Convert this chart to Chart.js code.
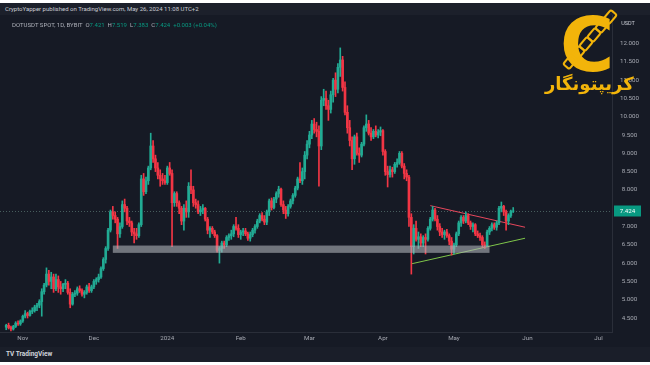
<!DOCTYPE html>
<html>
<head>
<meta charset="utf-8">
<script src="https://cdn.jsdelivr.net/npm/chart.js@4.4.1/dist/chart.umd.min.js"></script>
<style>
  html, body { margin: 0; padding: 0; background: #ffffff; width: 650px; height: 365px; overflow: hidden; }
  #frame { position: absolute; left: 0; top: 3px; width: 650px; height: 359px; background: #161a25; }
  #hdr { position: absolute; left: 0; top: 3px; width: 645px; height: 12px; background: #1c202b; color: #c9ccd4;
         font: 6px Roboto, "Liberation Sans", sans-serif; line-height: 12px; padding-left: 5px; }
  #legend { position: absolute; left: 12px; top: 21px; color: #aeb1ba; font: 6px Roboto, "Liberation Sans", sans-serif; white-space: pre; }
  #legend b { font-weight: normal; color: #089981; }
  #unit { position: absolute; left: 619px; top: 20px; width: 18px; text-align: center; color: #c9ccd4;
          font: 5.5px Roboto, "Liberation Sans", sans-serif; }
  #wrap { position: absolute; left: 0; top: 15px; width: 650px; height: 332px; }
  #foot { position: absolute; left: 0; top: 347px; width: 650px; height: 15px; background: #1a1e29; }
  #foot span { position: absolute; left: 6px; top: 3px; color: #d1d4dc; font: bold 6.5px Roboto, "Liberation Sans", sans-serif; }
  #logo { position: absolute; left: 540px; top: 4px; width: 95px; height: 95px; }
  #logo .c { position: absolute; left: 20px; top: 4px; font: bold 74px/1 "DejaVu Sans", sans-serif; color: #f2b40a; }
  #logo .lnk { position: absolute; width: 10px; height: 6px; border: 2.5px solid #f2b40a; border-radius: 3px; transform: rotate(-50deg); }
  #logo .fa { position: absolute; left: 5px; top: 69px; font: bold 18px/1.2 "DejaVu Sans", sans-serif; color: #f2b40a; direction: rtl; }
</style>
</head>
<body>
<div id="frame"></div>
<div id="hdr">CryptoYapper published on TradingView.com, May 26, 2024 11:08 UTC+2</div>
<div id="wrap"><canvas id="chart" width="650" height="332"></canvas></div>
<div id="legend">DOTUSDT SPOT, 1D, BYBIT  O<b>7.421</b>  H<b>7.519</b>  L<b>7.383</b>  C<b>7.424</b>  <b>+0.003 (+0.04%)</b></div>
<div id="unit">USDT</div>
<div id="foot"><span>TV TradingView</span></div>
<div id="logo">
  <div class="c">C</div>
  <div class="lnk" style="left:63px;top:8px"></div>
  <div class="lnk" style="left:55px;top:17px"></div>
  <div class="lnk" style="left:47px;top:26px"></div>
  <div class="lnk" style="left:39px;top:35px"></div>
  <div class="lnk" style="left:31px;top:44px"></div>
  <div class="lnk" style="left:23px;top:53px"></div>
  <div class="fa">کریپتونگار</div>
</div>
<script>
// daily candles, index 0 = 25 Oct 2023 ... index 214 = 26 May 2024
var opens = [4.25,4.30,4.24,4.20,4.27,4.36,4.34,4.42,4.55,4.62,4.57,4.68,4.70,4.80,4.85,4.95,5.22,5.40,5.70,5.50,5.62,5.30,5.55,5.35,5.30,5.42,5.45,5.20,4.88,5.15,5.18,5.30,5.25,5.15,5.20,5.35,5.25,
  5.35,5.50,5.55,5.62,5.85,6.10,6.40,6.90,7.40,7.30,7.20,6.80,7.00,7.60,7.50,7.15,7.10,6.85,6.80,6.75,7.05,8.30,7.95,8.25,8.60,9.20,8.85,8.60,8.40,8.30,8.25,
  8.20,8.60,8.45,7.65,7.90,7.65,7.50,7.15,7.50,7.40,8.10,8.00,7.65,7.60,7.40,7.45,7.50,7.20,6.90,6.95,6.85,6.75,6.35,6.40,6.55,6.50,6.70,6.75,6.80,7.00,6.95,
  6.78,6.85,6.88,6.80,6.68,6.78,6.90,7.00,7.15,7.30,7.20,7.12,7.40,7.70,7.52,7.75,7.90,8.02,7.60,7.45,7.35,7.55,7.70,7.85,8.05,8.30,8.25,8.50,8.95,
  9.25,9.50,9.80,9.65,9.60,9.20,10.45,10.50,10.30,10.20,10.60,11.00,10.75,11.35,11.55,10.80,10.12,9.70,9.35,8.85,9.45,9.00,8.95,9.25,9.70,9.80,9.55,9.45,9.60,9.50,9.58,
  9.62,9.05,8.50,8.42,8.55,8.50,8.70,8.75,9.00,8.65,8.45,8.35,7.25,6.45,6.95,6.65,6.72,6.55,6.70,6.65,6.95,7.20,7.45,7.20,7.00,6.85,6.78,6.85,6.75,6.60,
  6.38,6.50,6.80,7.10,7.25,7.15,7.30,7.10,7.00,7.05,6.80,6.75,6.70,6.50,6.48,6.85,6.95,7.05,6.98,7.10,7.50,7.55,7.40,7.15,7.30,7.421];
var highs = [4.33,4.36,4.28,4.30,4.40,4.42,4.45,4.58,4.70,4.66,4.72,4.78,4.85,4.90,5.00,5.30,5.45,5.87,5.80,5.75,5.70,5.70,5.65,5.50,5.45,5.55,5.50,5.30,5.20,5.25,5.35,5.38,5.30,5.25,5.40,5.45,5.40,
  5.55,5.60,5.70,5.90,6.15,6.45,6.95,7.45,7.55,7.40,7.25,7.10,7.70,7.75,7.55,7.25,7.15,6.95,6.95,7.10,8.40,8.45,8.35,8.65,9.55,9.35,8.95,8.75,8.55,8.45,8.40,
  8.65,8.75,8.55,7.95,7.95,7.70,7.55,7.60,7.70,8.20,8.55,8.10,7.75,7.70,7.55,7.60,7.52,7.25,7.00,7.00,6.90,6.78,6.45,6.60,6.60,6.75,6.80,6.90,7.05,7.25,7.05,
  6.90,6.95,6.95,6.85,6.85,6.95,7.05,7.20,7.35,7.38,7.30,7.45,7.75,7.78,7.80,7.95,8.10,8.05,7.70,7.55,7.60,7.75,7.90,8.10,8.35,8.75,8.60,9.05,9.35,
  9.60,9.90,9.95,9.85,9.75,10.55,10.75,10.70,10.45,10.70,11.05,11.20,11.45,11.88,11.65,10.95,10.30,9.90,9.45,9.50,9.55,9.15,9.30,9.75,10.05,9.90,9.70,9.65,9.75,9.65,9.72,
  9.65,9.10,8.65,8.65,8.62,8.75,8.85,9.05,9.05,8.72,8.55,8.40,7.35,7.05,7.15,6.85,6.80,6.75,6.80,7.00,7.25,7.55,7.50,7.30,7.08,6.95,6.90,6.92,6.80,6.70,
  6.55,6.85,7.15,7.30,7.30,7.40,7.35,7.15,7.10,7.08,6.88,6.82,6.75,6.58,6.90,7.00,7.10,7.10,7.15,7.55,7.67,7.58,7.45,7.35,7.45,7.519];
var lows = [4.18,4.20,4.15,4.17,4.24,4.30,4.30,4.38,4.50,4.50,4.55,4.62,4.66,4.70,4.78,4.55,5.15,5.35,5.40,5.30,5.20,5.25,5.20,5.15,5.22,5.30,5.15,4.78,4.85,5.08,5.12,5.20,5.10,5.05,5.15,5.20,5.20,
  5.30,5.42,5.48,5.58,5.80,6.00,6.35,6.85,7.20,7.10,6.40,6.70,6.95,7.40,7.05,7.00,6.75,6.55,6.65,6.70,7.00,7.85,7.90,8.15,8.55,8.75,8.50,8.30,8.10,8.15,8.15,
  8.15,8.40,6.45,7.55,7.55,7.35,7.05,6.90,7.25,7.25,7.90,7.55,7.50,7.35,7.30,7.35,7.15,6.80,6.70,6.80,6.70,6.30,6.00,6.30,6.40,6.45,6.62,6.65,6.72,6.90,6.70,
  6.65,6.75,6.75,6.62,6.60,6.72,6.82,6.95,7.10,7.15,7.05,7.05,7.30,7.45,7.48,7.65,7.80,7.55,7.35,7.22,7.28,7.50,7.62,7.80,8.00,8.20,8.15,8.30,8.85,
  9.15,9.40,9.55,9.45,8.10,9.10,10.30,10.20,9.90,10.10,10.40,10.55,10.65,11.10,10.70,10.05,9.55,9.20,8.55,8.70,8.95,8.75,8.90,9.20,9.60,9.50,9.35,9.40,9.45,9.42,9.48,
  8.95,8.40,8.08,8.35,8.35,8.45,8.62,8.70,8.60,8.30,8.25,7.00,5.70,6.25,6.60,6.40,6.45,6.45,6.25,6.60,6.90,7.15,7.15,6.90,6.75,6.70,6.65,6.70,6.50,6.22,
  6.25,6.45,6.75,7.00,7.08,7.10,7.05,6.92,6.85,6.75,6.70,6.62,6.42,6.40,6.45,6.78,6.88,6.92,6.90,7.05,7.40,7.30,6.90,7.05,7.25,7.383];
var closes = [4.30,4.24,4.20,4.27,4.36,4.34,4.42,4.55,4.62,4.57,4.68,4.70,4.80,4.85,4.95,5.22,5.40,5.70,5.50,5.62,5.30,5.55,5.35,5.30,5.42,5.45,5.20,4.88,5.15,5.18,5.30,5.25,5.15,5.20,5.35,5.25,5.35,
  5.50,5.55,5.62,5.85,6.10,6.40,6.90,7.40,7.30,7.20,6.80,7.00,7.60,7.50,7.15,7.10,6.85,6.80,6.75,7.05,8.30,7.95,8.25,8.60,9.20,8.85,8.60,8.40,8.30,8.25,8.20,
  8.60,8.45,7.65,7.90,7.65,7.50,7.15,7.50,7.40,8.10,8.00,7.65,7.60,7.40,7.45,7.50,7.20,6.90,6.95,6.85,6.75,6.35,6.40,6.55,6.50,6.70,6.75,6.80,7.00,6.95,6.78,
  6.85,6.88,6.80,6.68,6.78,6.90,7.00,7.15,7.30,7.20,7.12,7.40,7.70,7.52,7.75,7.90,8.02,7.60,7.45,7.35,7.55,7.70,7.85,8.05,8.30,8.25,8.50,8.95,9.25,
  9.50,9.80,9.65,9.60,9.20,10.45,10.50,10.30,10.20,10.60,11.00,10.75,11.35,11.55,10.80,10.12,9.70,9.35,8.85,9.45,9.00,8.95,9.25,9.70,9.80,9.55,9.45,9.60,9.50,9.58,9.62,
  9.05,8.50,8.42,8.55,8.50,8.70,8.75,9.00,8.65,8.45,8.35,7.25,6.45,6.95,6.65,6.72,6.55,6.70,6.65,6.95,7.20,7.45,7.20,7.00,6.85,6.78,6.85,6.75,6.60,6.38,
  6.50,6.80,7.10,7.25,7.15,7.30,7.10,7.00,7.05,6.80,6.75,6.70,6.50,6.48,6.85,6.95,7.05,6.98,7.10,7.50,7.55,7.40,7.15,7.30,7.42,7.424];

// time axis: day index of month starts and their labels
var monthTicks = [7, 37, 68, 99, 128, 159, 189, 220, 250];
var monthLabels = ["Nov", "Dec", "2024", "Feb", "Mar", "Apr", "May", "Jun", "Jul"];
var priceTicks = [4.5, 5, 5.5, 6, 6.5, 7, 7.5, 8, 8.5, 9, 9.5, 10, 10.5, 11, 11.5, 12];

// drawings on the chart
var resistLine = [{x: 179, y: 7.57}, {x: 219, y: 6.98}];
var supportLine = [{x: 171, y: 5.98}, {x: 219, y: 6.68}];
var zoneDays = [45, 204];
var zonePrices = [6.28, 6.48];
var lastPrice = 7.424;

var up = "#22ab94", down = "#f23645";
var candleColors = closes.map((c, i) => c >= opens[i] ? up : down);

var wicks = closes.map((c, i) => ({x: i, y: [lows[i], highs[i]]}));
var bodies = closes.map((c, i) => ({x: i, y: [opens[i], c]}));

var overlay = {
    id: "overlay",
    beforeDatasetsDraw: function(chart) {
        var ctx = chart.ctx, a = chart.chartArea, y = chart.scales.y.getPixelForValue(lastPrice);
        ctx.save();
        ctx.strokeStyle = "rgba(120,160,150,0.5)";
        ctx.lineWidth = 1;
        ctx.setLineDash([1, 2]);
        ctx.beginPath();
        ctx.moveTo(a.left, Math.round(y) + 0.5);
        ctx.lineTo(a.right, Math.round(y) + 0.5);
        ctx.stroke();
        ctx.restore();
    },
    afterDatasetsDraw: function(chart) {
        var ctx = chart.ctx, xs = chart.scales.x, ys = chart.scales.y;
        var x0 = xs.getPixelForValue(zoneDays[0]), x1 = xs.getPixelForValue(zoneDays[1]);
        var y0 = ys.getPixelForValue(zonePrices[1]), y1 = ys.getPixelForValue(zonePrices[0]);
        ctx.save();
        ctx.fillStyle = "rgba(175,178,185,0.6)";
        ctx.fillRect(x0, y0, x1 - x0, y1 - y0);
        ctx.restore();
    },
    afterDraw: function(chart) {
        var ctx = chart.ctx, a = chart.chartArea, y = chart.scales.y.getPixelForValue(lastPrice);
        ctx.save();
        ctx.fillStyle = "#089981";
        ctx.fillRect(a.right + 2, y - 5.5, 27, 11);
        ctx.fillStyle = "#ffffff";
        ctx.font = "6.2px Roboto";
        ctx.textAlign = "center";
        ctx.textBaseline = "middle";
        ctx.fillText(lastPrice.toFixed(3), a.right + 15.5, y + 0.5);
        ctx.restore();
    }
};

new Chart(document.getElementById("chart"), {
    type: "bar",
    data: {
        datasets: [
            { data: wicks, backgroundColor: candleColors, barThickness: 1, grouped: false },
            { data: bodies, backgroundColor: candleColors, barThickness: 2, grouped: false },
            { type: "line", data: resistLine, borderColor: "#e8475c", borderWidth: 1, pointRadius: 0 },
            { type: "line", data: supportLine, borderColor: "#7fc64a", borderWidth: 1, pointRadius: 0 }
        ]
    },
    options: {
        responsive: false,
        animation: false,
        layout: { padding: 0 },
        plugins: { legend: { display: false }, tooltip: { enabled: false } },
        scales: {
            x: {
                type: "linear",
                min: -2.62,
                max: 255.7,
                offset: false,
                grid: { display: false, offset: false, drawTicks: false },
                border: { display: true, color: "#2a2e39" },
                afterBuildTicks: s => { s.ticks = monthTicks.map(v => ({value: v})); },
                afterFit: s => { s.height = 15; },
                ticks: {
                    padding: 3,
                    maxRotation: 0,
                    autoSkip: false,
                    color: "#a7aab3",
                    font: { family: "Roboto", size: 6.2 },
                    callback: (v, i) => monthLabels[i]
                }
            },
            y: {
                position: "right",
                min: 4.118,
                max: 12.779,
                grid: { display: false, drawTicks: false },
                border: { display: true, color: "#2a2e39" },
                afterBuildTicks: s => { s.ticks = priceTicks.map(v => ({value: v})); },
                // keep the label padding from eating into the plot height
                afterFit: s => { s.width = 38; s.paddingTop = 0; s.paddingBottom = 0; },
                ticks: {
                    padding: 8,
                    crossAlign: "center",
                    color: "#a7aab3",
                    font: { family: "Roboto", size: 6.2 },
                    callback: v => Number(v).toFixed(3)
                }
            }
        }
    },
    plugins: [overlay]
});
</script>
</body>
</html>
